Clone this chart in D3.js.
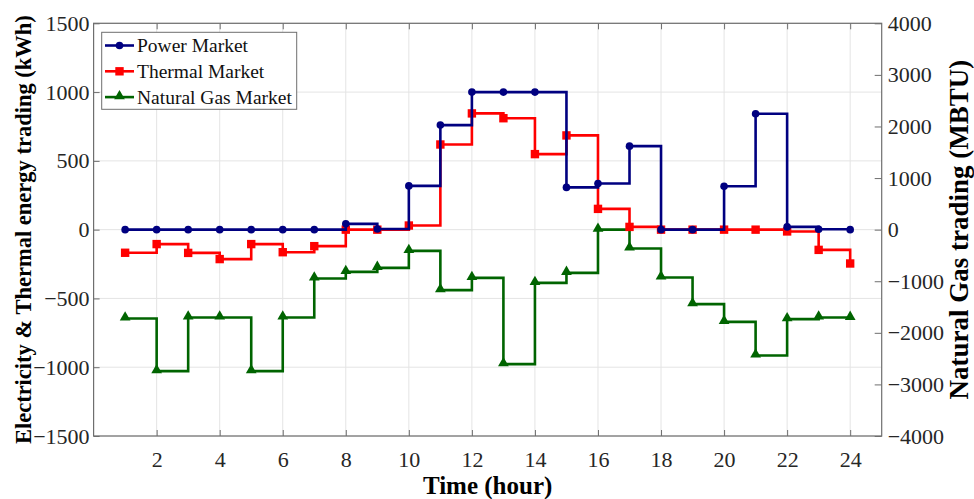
<!DOCTYPE html>
<html>
<head>
<meta charset="utf-8">
<script src="https://cdn.jsdelivr.net/npm/d3@7"></script>
<style>
  html, body { margin: 0; padding: 0; background: #fff; }
  svg { display: block; }
  svg text { font-family: "Liberation Serif", "Times New Roman", serif; }
</style>
</head>
<body>
<svg id="chart" width="974" height="499"></svg>
<script>
// Hourly trading schedule (hours 1..24)
const hours = d3.range(1, 25);
const powerMarket = [0, 0, 0, 0, 0, 0, 0, 42, 5, 318, 760, 1000, 1000, 1000, 307, 336, 607, 0, 0, 316, 842, 20, 3, 0];
const thermalMarket = [-168, -105, -169, -214, -105, -164, -120, 0, 0, 30, 619, 845, 810, 549, 685, 151, 20, 0, 0, 0, 0, -13, -147, -246];
const gasMarket = [-1722, -2743, -1702, -1702, -2743, -1702, -946, -818, -740, -411, -1173, -934, -2607, -1031, -837, 0, -364, -927, -1444, -1787, -2439, -1735, -1702, -1709];

const xTicks = d3.range(2, 25, 2);
const leftTicks = [-1500, -1000, -500, 0, 500, 1000, 1500];
const rightTicks = [-4000, -3000, -2000, -1000, 0, 1000, 2000, 3000, 4000];
const seriesNames = ["Power Market", "Thermal Market", "Natural Gas Market"];

const svg = d3.select("#chart");
const pL = 93.6, pR = 881.7, pT = 23.3, pB = 436;
const W = pR - pL, H = pB - pT;

const x = d3.scaleLinear().domain([0, 25]).range([pL, pR]);
const yL = d3.scaleLinear().domain([-1500, 1500]).range([pB, pT]);
const yR = d3.scaleLinear().domain([-4000, 4000]).range([pB, pT]);

const axisColor = "#6e6e6e";
const gridColor = "#e4e4e4";
const fmt = d3.format("d");

// grid
svg.append("g").selectAll("line").data(xTicks).join("line")
  .attr("x1", d => x(d)).attr("x2", d => x(d)).attr("y1", pT).attr("y2", pB)
  .attr("stroke", gridColor).attr("stroke-width", 1);
svg.append("g").selectAll("line").data(leftTicks).join("line")
  .attr("x1", pL).attr("x2", pR).attr("y1", d => yL(d)).attr("y2", d => yL(d))
  .attr("stroke", gridColor).attr("stroke-width", 1);

// axes
const tickFont = g => g.selectAll("text")
  .style("font-size", "22px").style("font-family", "'Liberation Serif', 'Times New Roman', serif")
  .attr("fill", "#262626");

const gx = svg.append("g").attr("transform", `translate(0,${pB})`)
  .call(d3.axisBottom(x).tickValues(xTicks).tickFormat(fmt).tickSizeInner(-6).tickSizeOuter(0).tickPadding(15));
gx.select(".domain").remove();
gx.selectAll("line").attr("stroke", axisColor);
tickFont(gx);

const gxt = svg.append("g").attr("transform", `translate(0,${pT})`)
  .call(d3.axisTop(x).tickValues(xTicks).tickSizeInner(-6).tickSizeOuter(0).tickFormat(""));
gxt.select(".domain").remove();
gxt.selectAll("line").attr("stroke", axisColor);

const gyl = svg.append("g").attr("transform", `translate(${pL},0)`)
  .call(d3.axisLeft(yL).tickValues(leftTicks).tickFormat(fmt).tickSizeInner(-6).tickSizeOuter(0).tickPadding(4));
gyl.select(".domain").remove();
gyl.selectAll("line").attr("stroke", axisColor);
tickFont(gyl);

const gyr = svg.append("g").attr("transform", `translate(${pR},0)`)
  .call(d3.axisRight(yR).tickValues(rightTicks).tickFormat(fmt).tickSizeInner(-7).tickSizeOuter(0).tickPadding(6));
gyr.select(".domain").remove();
gyr.selectAll("line").attr("stroke", axisColor);
tickFont(gyr);

// frame
svg.append("rect").attr("x", pL).attr("y", pT).attr("width", W).attr("height", H)
  .attr("fill", "none").attr("stroke", axisColor).attr("stroke-width", 1.2);

// staircase series
const stairs = d3.line().curve(d3.curveStepAfter);
function drawMarker(g, cx, cy, color, marker) {
  if (marker === "circle") {
    g.append("circle").attr("cx", cx).attr("cy", cy).attr("r", 3.8).attr("fill", color);
  } else if (marker === "square") {
    g.append("rect").attr("x", cx - 4.2).attr("y", cy - 4.2).attr("width", 8.4).attr("height", 8.4).attr("fill", color);
  } else {
    const s = d3.symbol().type(d3.symbolTriangle).size(50);
    g.append("path").attr("d", s()).attr("transform", `translate(${cx},${cy - 1})`).attr("fill", color);
  }
}
function drawSeries(vals, yScale, color, marker) {
  const pts = hours.map((h, i) => [x(h), yScale(vals[i])]);
  svg.append("path").attr("d", stairs(pts)).attr("fill", "none")
    .attr("stroke", color).attr("stroke-width", 2.6).attr("stroke-linejoin", "miter");
  const g = svg.append("g");
  pts.forEach(p => drawMarker(g, p[0], p[1], color, marker));
}

const colors = ["#000080", "#ff0000", "#006400"];
const markers = ["circle", "square", "triangle"];
drawSeries(gasMarket, yR, colors[2], markers[2]);
drawSeries(thermalMarket, yL, colors[1], markers[1]);
drawSeries(powerMarket, yL, colors[0], markers[0]);

// legend
const lg = svg.append("g");
lg.append("rect").attr("x", 101.7).attr("y", 32.3).attr("width", 195).attr("height", 77)
  .attr("fill", "#fff").attr("stroke", axisColor).attr("stroke-width", 1);
seriesNames.forEach((name, i) => {
  const yy = 45.5 + i * 25.8;
  lg.append("line").attr("x1", 105).attr("x2", 134).attr("y1", yy).attr("y2", yy)
    .attr("stroke", colors[i]).attr("stroke-width", 2.6);
  drawMarker(lg, 119.5, yy, colors[i], markers[i]);
  lg.append("text").attr("x", 137).attr("y", yy + 6.5).style("font-size", "19.5px")
    .attr("fill", "#111").text(name);
});

// axis titles
svg.append("text").attr("x", (pL + pR) / 2).attr("y", 494).attr("text-anchor", "middle")
  .style("font-size", "25px").attr("font-weight", "bold").attr("fill", "#000").text("Time (hour)");
svg.append("text").attr("transform", `translate(31,${(pT + pB) / 2}) rotate(-90)`)
  .attr("text-anchor", "middle").style("font-size", "22.5px").attr("font-weight", "bold").attr("fill", "#000")
  .text("Electricity & Thermal energy trading (kWh)");
svg.append("text").attr("transform", `translate(968,${(pT + pB) / 2}) rotate(-90)`)
  .attr("text-anchor", "middle").style("font-size", "27px").attr("font-weight", "bold").attr("fill", "#000")
  .text("Natural Gas trading (MBTU)");
</script>
</body>
</html>
